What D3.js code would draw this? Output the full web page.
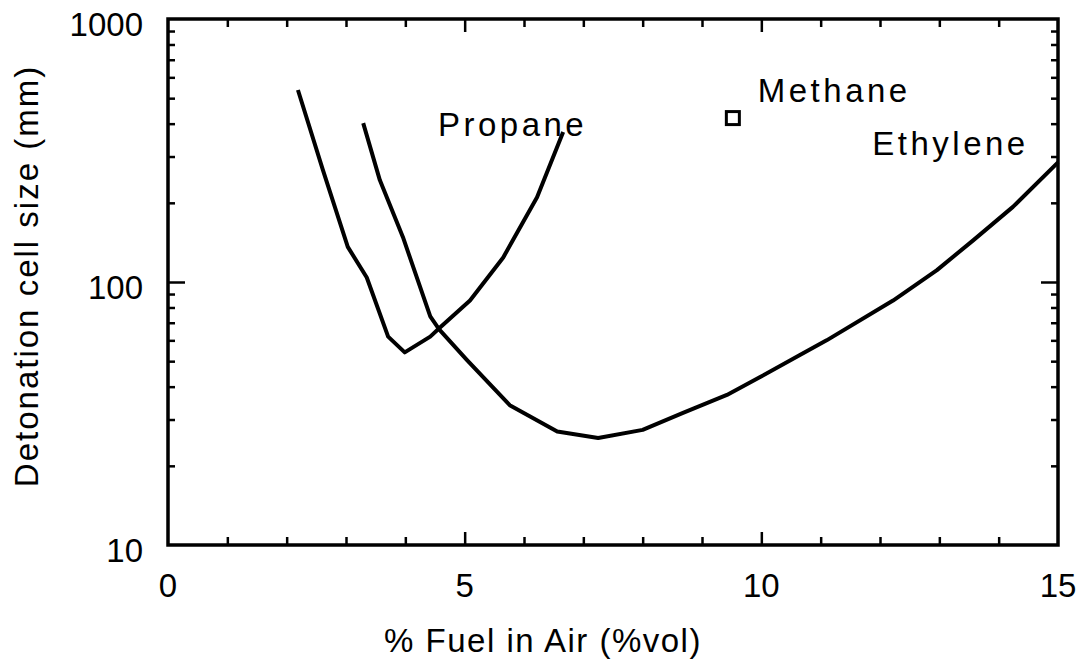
<!DOCTYPE html>
<html>
<head>
<meta charset="utf-8">
<script src="https://cdn.jsdelivr.net/npm/d3@7"></script>
<style>
  body { margin: 0; background: #fff; }
  text { font-family: "Liberation Sans", Arial, Helvetica, sans-serif; fill: #000; }
</style>
</head>
<body>
<div id="visualization"></div>
<script>
// curves: % fuel in air vs detonation cell size (mm)
let propaneX = [2.19, 2.61, 3.03, 3.35, 3.71, 3.99, 4.42, 4.58, 5.09, 5.65, 6.22, 6.66]
let propaneY = [537, 267, 136, 104, 62, 54, 62, 67, 85, 124, 210, 372]

let ethyleneX = [3.29, 3.57, 3.96, 4.42, 4.57, 5.04, 5.76, 6.56, 7.25, 8.0, 8.68, 9.42, 9.98, 10.65, 11.1, 12.22, 12.96, 13.57, 14.24, 15]
let ethyleneY = [402, 244, 148, 74, 66, 50.5, 34, 27, 25.5, 27.4, 31.8, 37.2, 43.5, 52.8, 60, 85, 111, 144, 193, 285]

let methanePoint = [9.52, 420]

let xTicks = [0, 5, 10, 15]
let yTicks = [10, 100, 1000]

let labels = [
  {text: "Propane", x: 4.55, y: 359},
  {text: "Methane", x: 9.94, y: 483},
  {text: "Ethylene", x: 11.87, y: 304}
]

// set the dimensions and margins of the graph
var margin = {top: 19, right: 28, bottom: 127, left: 168},
    width = 1086 - margin.left - margin.right,
    height = 672 - margin.top - margin.bottom;

var svg = d3.select("#visualization")
  .append("svg")
    .attr("width", 1086)
    .attr("height", 672)
  .append("g")
    .attr("transform", `translate(${margin.left}, ${margin.top})`);

var x = d3.scaleLinear().domain([0, 15]).range([0, width])
var y = d3.scaleLog().domain([10, 1000]).range([height, 0])

let minorX = d3.range(1, 15).filter(d => d % 5 != 0)
let midX = [5, 10]
let minorY = []
;[10, 100].forEach(dec => { for (let k = 2; k <= 9; k++) minorY.push(dec * k) })

// ticks, all pointing inward
function tickAxis(axisFn, scale, values, size, transform) {
  let g = svg.append("g")
    .attr("transform", transform)
    .call(axisFn(scale).tickValues(values).tickSize(size).tickFormat(""))
  g.select(".domain").remove()
  g.selectAll("line").attr("stroke", "black").attr("stroke-width", 2.5)
  return g
}

tickAxis(d3.axisBottom, x, minorX, -8, `translate(0,${height})`)
tickAxis(d3.axisBottom, x, midX, -13, `translate(0,${height})`)
tickAxis(d3.axisTop, x, minorX, -8, "translate(0,0)")
tickAxis(d3.axisTop, x, midX, -13, "translate(0,0)")
tickAxis(d3.axisLeft, y, minorY, -7, "translate(0,0)")
tickAxis(d3.axisLeft, y, [100], -17, "translate(0,0)")
tickAxis(d3.axisRight, y, minorY, -7, `translate(${width},0)`)
tickAxis(d3.axisRight, y, [100], -17, `translate(${width},0)`)

// frame
svg.append("rect")
  .attr("x", 0).attr("y", 0)
  .attr("width", width).attr("height", height)
  .attr("fill", "none")
  .attr("stroke", "black")
  .attr("stroke-width", 3.5)

// tick labels
svg.selectAll(".xlab")
  .data(xTicks)
  .join("text")
  .attr("class", "xlab")
  .attr("x", d => x(d))
  .attr("y", height + 52)
  .attr("text-anchor", "middle")
  .style("font-size", "33px")
  .text(d => d)

svg.selectAll(".ylab")
  .data(yTicks)
  .join("text")
  .attr("class", "ylab")
  .attr("x", -25)
  .attr("y", d => y(d) + 17)
  .attr("text-anchor", "end")
  .style("font-size", "33px")
  .text(d => d)

// curves
let line = d3.line()
  .x(d => x(d[0]))
  .y(d => y(d[1]))

let series = [d3.zip(propaneX, propaneY), d3.zip(ethyleneX, ethyleneY)]

svg.selectAll(".chartLine")
  .data(series)
  .join("path")
  .attr("class", "chartLine")
  .attr("d", line)
  .attr("fill", "none")
  .attr("stroke", "black")
  .attr("stroke-width", 4)
  .attr("stroke-linejoin", "round")
  .attr("stroke-linecap", "butt")

// methane point
svg.append("rect")
  .attr("x", x(methanePoint[0]) - 6.5)
  .attr("y", y(methanePoint[1]) - 6.5)
  .attr("width", 13)
  .attr("height", 13)
  .attr("fill", "white")
  .attr("stroke", "black")
  .attr("stroke-width", 3)

// curve labels
svg.selectAll(".chartAnnotation")
  .data(labels)
  .join("text")
  .attr("class", "chartAnnotation")
  .attr("x", d => x(d.x))
  .attr("y", d => y(d.y))
  .style("font-size", "33px")
  .style("letter-spacing", "3.5px")
  .text(d => d.text)

// axis titles
svg.append("text")
  .attr("x", width / 2 - 70)
  .attr("y", height + 107)
  .attr("text-anchor", "middle")
  .style("font-size", "33px")
  .style("letter-spacing", "1.5px")
  .text("% Fuel in Air (%vol)")

svg.append("text")
  .attr("transform", `translate(${-130}, ${height / 2 - 6}) rotate(-90)`)
  .attr("text-anchor", "middle")
  .style("font-size", "33px")
  .style("letter-spacing", "2px")
  .text("Detonation cell size (mm)")
</script>
</body>
</html>
